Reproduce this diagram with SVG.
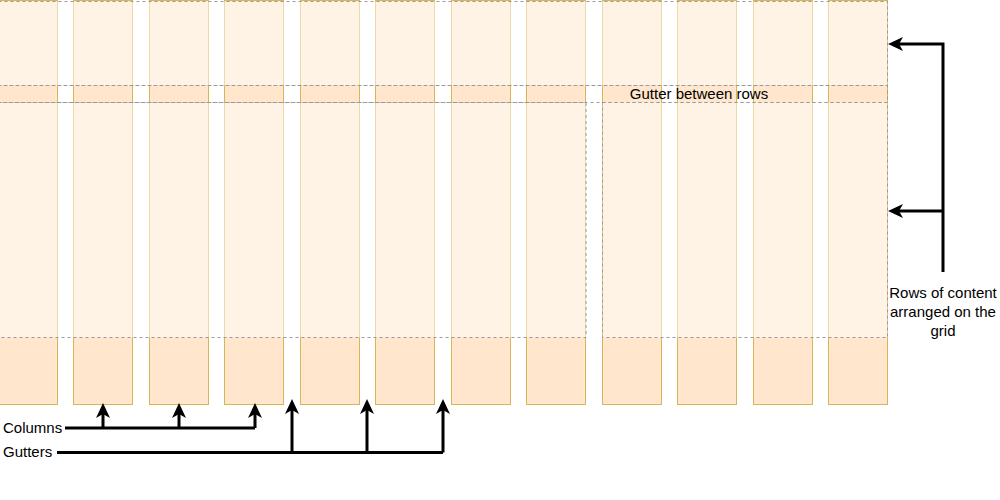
<svg xmlns="http://www.w3.org/2000/svg" width="1000" height="500" viewBox="0 0 1000 500">
  <style>
    .col { fill: #ffe6cc; stroke: #d6b656; stroke-width: 1; }
    .row { fill: #ffffff; fill-opacity: 0.5; stroke: #9a9a9a; stroke-width: 1; stroke-dasharray: 3 3; }
    .band { fill: none; stroke: #9a9a9a; stroke-width: 1; stroke-dasharray: 3 3; }
    .lbl { font-family: "Liberation Sans", Arial, sans-serif; font-size: 15px; fill: #000000; }
    .conn { fill: none; stroke: #000000; stroke-width: 3; }
    .arr { marker-end: url(#ah); }
  </style>
  <defs>
    <marker id="ah" markerUnits="userSpaceOnUse" markerWidth="16" markerHeight="16" refX="4" refY="7" orient="auto" viewBox="0 0 16 14">
      <path d="M0,0 L15,7 L0,14 L4,7 Z" fill="#000000"/>
    </marker>
  </defs>
  <rect width="1000" height="500" fill="#ffffff"/>

  <g id="columns">
    <rect id="col1" class="col" x="-1.5" y="0.5" width="59" height="404"/>
    <rect id="col2" class="col" x="73.5" y="0.5" width="59" height="404"/>
    <rect id="col3" class="col" x="149.5" y="0.5" width="59" height="404"/>
    <rect id="col4" class="col" x="224.5" y="0.5" width="59" height="404"/>
    <rect id="col5" class="col" x="300.5" y="0.5" width="59" height="404"/>
    <rect id="col6" class="col" x="375.5" y="0.5" width="59" height="404"/>
    <rect id="col7" class="col" x="451.5" y="0.5" width="59" height="404"/>
    <rect id="col8" class="col" x="526.5" y="0.5" width="59" height="404"/>
    <rect id="col9" class="col" x="602.5" y="0.5" width="59" height="404"/>
    <rect id="col10" class="col" x="677.5" y="0.5" width="59" height="404"/>
    <rect id="col11" class="col" x="753.5" y="0.5" width="59" height="404"/>
    <rect id="col12" class="col" x="828.5" y="0.5" width="59" height="404"/>
  </g>

  <g id="rows">
    <rect id="row1" class="row" x="-1.5" y="1.5" width="889" height="84"/>
    <rect id="row2-left" class="row" x="-1.5" y="102.5" width="587.5" height="235"/>
    <rect id="row2-right" class="row" x="602.5" y="102.5" width="285" height="235"/>
  </g>

  <g id="row-gutter">
    <rect class="band" x="-1.5" y="85.5" width="889" height="17"/>
    <text class="lbl" x="699" y="98.5" text-anchor="middle">Gutter between rows</text>
  </g>

  <g id="connectors">
    <path class="conn" d="M65,428 H255"/>
    <path class="conn arr" d="M103,428 V414"/>
    <path class="conn arr" d="M179,428 V414"/>
    <path class="conn arr" d="M255,428 V414"/>
    <path class="conn" d="M57,452.5 H443"/>
    <path class="conn arr" d="M292,452.5 V410"/>
    <path class="conn arr" d="M367,452.5 V410"/>
    <path class="conn arr" d="M443,452.5 V410"/>
    <path class="conn" d="M943,272 V44 H900"/>
    <path class="conn arr" d="M900,44 H899"/>
    <path class="conn arr" d="M943,211 H899"/>
  </g>

  <g id="label-columns">
    <text class="lbl" x="3" y="433">Columns</text>
  </g>
  <g id="label-gutters">
    <text class="lbl" x="3" y="457">Gutters</text>
  </g>
  <g id="label-rows">
    <text class="lbl" x="943" y="298" text-anchor="middle">Rows of content</text>
    <text class="lbl" x="943" y="317" text-anchor="middle">arranged on the</text>
    <text class="lbl" x="943" y="336" text-anchor="middle">grid</text>
  </g>
</svg>
